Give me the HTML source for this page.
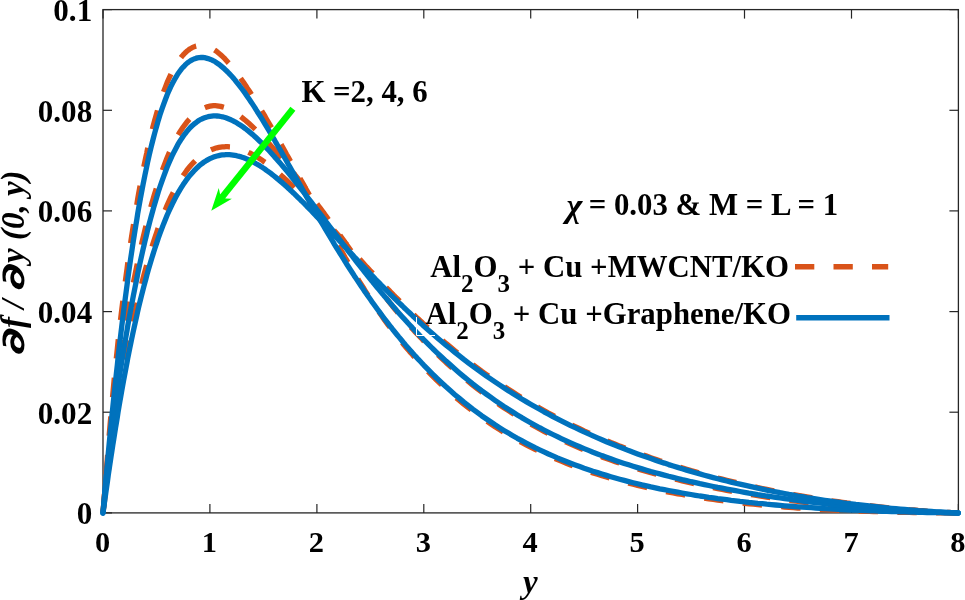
<!DOCTYPE html>
<html><head><meta charset="utf-8"><title>Velocity profile</title>
<style>
html,body{margin:0;padding:0;background:#fff;}
body{width:965px;height:600px;overflow:hidden;}
svg{display:block;}
text{font-family:"Liberation Serif",serif;font-weight:bold;font-size:30.8px;fill:#000;}
.ax line{stroke:#262626;stroke-width:1.2;}
.bl{fill:none;stroke:#0072BD;stroke-width:5.3;stroke-linejoin:round;stroke-linecap:round;}
.or{fill:none;stroke:#D95319;stroke-width:5.3;stroke-linejoin:round;stroke-dasharray:19.4 19.35;}
.it{font-style:italic;}
.sub{font-size:25px;}
</style></head><body>
<svg width="965" height="600" viewBox="0 0 965 600">
<rect width="965" height="600" fill="#fff"/>
<g class="ax">
<rect x="103" y="9.6" width="855.4" height="503.29999999999995" fill="none" stroke="#262626" stroke-width="1.3"/>
<line x1="103.0" y1="512.9" x2="103.0" y2="503.9"/>
<line x1="103.0" y1="9.6" x2="103.0" y2="18.6"/>
<line x1="209.9" y1="512.9" x2="209.9" y2="503.9"/>
<line x1="209.9" y1="9.6" x2="209.9" y2="18.6"/>
<line x1="316.9" y1="512.9" x2="316.9" y2="503.9"/>
<line x1="316.9" y1="9.6" x2="316.9" y2="18.6"/>
<line x1="423.8" y1="512.9" x2="423.8" y2="503.9"/>
<line x1="423.8" y1="9.6" x2="423.8" y2="18.6"/>
<line x1="530.7" y1="512.9" x2="530.7" y2="503.9"/>
<line x1="530.7" y1="9.6" x2="530.7" y2="18.6"/>
<line x1="637.6" y1="512.9" x2="637.6" y2="503.9"/>
<line x1="637.6" y1="9.6" x2="637.6" y2="18.6"/>
<line x1="744.5" y1="512.9" x2="744.5" y2="503.9"/>
<line x1="744.5" y1="9.6" x2="744.5" y2="18.6"/>
<line x1="851.5" y1="512.9" x2="851.5" y2="503.9"/>
<line x1="851.5" y1="9.6" x2="851.5" y2="18.6"/>
<line x1="958.4" y1="512.9" x2="958.4" y2="503.9"/>
<line x1="958.4" y1="9.6" x2="958.4" y2="18.6"/>
<line x1="103" y1="512.9" x2="112" y2="512.9"/>
<line x1="958.4" y1="512.9" x2="949.4" y2="512.9"/>
<line x1="103" y1="412.2" x2="112" y2="412.2"/>
<line x1="958.4" y1="412.2" x2="949.4" y2="412.2"/>
<line x1="103" y1="311.6" x2="112" y2="311.6"/>
<line x1="958.4" y1="311.6" x2="949.4" y2="311.6"/>
<line x1="103" y1="210.9" x2="112" y2="210.9"/>
<line x1="958.4" y1="210.9" x2="949.4" y2="210.9"/>
<line x1="103" y1="110.3" x2="112" y2="110.3"/>
<line x1="958.4" y1="110.3" x2="949.4" y2="110.3"/>
<line x1="103" y1="9.6" x2="112" y2="9.6"/>
<line x1="958.4" y1="9.6" x2="949.4" y2="9.6"/>
</g>
<g>
<path class="or" d="M103.0,513.0 L103.9,501.3 L104.8,489.7 L105.7,478.4 L106.6,467.2 L107.5,456.3 L108.3,445.5 L109.2,434.9 L110.1,424.5 L111.0,414.2 L111.9,404.1 L112.8,394.2 L113.7,384.5 L114.6,374.9 L115.5,366.0 L116.4,357.5 L117.3,349.1 L118.1,340.9 L119.0,333.0 L119.9,325.1 L120.8,317.5 L121.7,310.0 L122.6,302.7 L123.5,295.5 L124.4,288.5 L125.3,281.6 L126.2,274.9 L127.1,268.3 L127.9,261.8 L128.8,255.5 L129.7,249.3 L130.6,243.2 L131.5,237.2 L132.4,231.4 L133.3,225.7 L134.2,220.1 L135.1,214.6 L136.0,209.3 L136.9,204.0 L137.7,198.9 L138.6,193.8 L139.5,188.9 L140.4,184.1 L141.3,179.4 L142.2,174.7 L143.1,170.2 L144.0,165.8 L144.9,161.5 L145.8,157.3 L146.7,153.2 L147.5,149.1 L148.4,145.2 L149.3,141.4 L150.2,137.6 L151.1,134.0 L152.0,130.4 L152.9,126.9 L153.8,123.6 L154.7,120.3 L155.6,117.1 L156.5,113.9 L158.2,107.9 L160.0,102.2 L161.8,96.9 L163.6,91.8 L165.4,87.1 L167.1,82.6 L168.9,78.5 L170.7,74.6 L172.5,71.0 L174.3,67.7 L176.1,64.6 L177.8,61.8 L179.6,59.3 L181.4,57.0 L183.2,54.9 L185.0,53.0 L186.7,51.4 L188.5,50.0 L190.3,48.7 L192.1,47.7 L193.9,46.9 L195.7,46.2 L197.4,45.8 L199.2,45.5 L201.0,45.4 L202.8,45.5 L204.6,45.7 L206.3,46.1 L208.1,46.7 L209.9,47.4 L211.7,48.3 L213.5,49.3 L215.3,50.5 L217.0,51.7 L218.8,53.2 L220.6,54.7 L222.4,56.4 L224.2,58.1 L225.9,60.0 L227.7,62.0 L229.5,64.0 L231.3,66.1 L233.1,68.3 L234.9,70.5 L236.6,72.8 L238.4,75.2 L240.2,77.7 L242.0,80.2 L243.8,82.8 L245.6,85.4 L247.3,88.1 L249.1,90.8 L250.9,93.5 L252.7,96.3 L254.5,99.1 L256.2,101.9 L258.0,104.8 L259.8,107.7 L261.6,110.7 L263.4,113.7 L265.2,116.7 L266.9,119.7 L268.7,122.8 L270.5,125.8 L272.3,128.9 L274.1,132.0 L275.8,135.2 L277.6,138.3 L279.4,141.5 L281.2,144.6 L283.0,147.8 L284.8,151.0 L286.5,154.2 L288.3,157.4 L290.1,160.6 L291.9,163.8 L293.7,167.0 L295.4,170.1 L297.2,173.3 L299.0,176.5 L300.8,179.7 L302.6,182.9 L304.4,186.1 L306.1,189.2 L307.9,192.4 L309.7,195.6 L311.5,198.7 L313.3,201.9 L315.0,205.0 L316.8,208.1 L318.6,211.3 L320.4,214.4 L322.2,217.5 L324.0,220.6 L325.7,223.7 L327.5,226.7 L329.3,229.8 L331.1,232.9 L332.9,236.0 L334.6,239.1 L336.4,242.3 L338.2,245.4 L340.0,248.5 L341.8,251.6 L343.6,254.7 L345.3,257.8 L347.1,260.9 L348.9,264.0 L350.7,267.0 L352.5,270.0 L354.2,273.0 L356.0,276.0 L357.8,278.9 L359.6,281.8 L361.4,284.7 L363.2,287.5 L364.9,290.3 L366.7,293.2 L368.5,296.0 L370.3,298.7 L372.1,301.5 L373.8,304.2 L375.6,306.9 L377.4,309.6 L379.2,312.2 L381.0,314.8 L382.8,317.4 L384.5,319.9 L386.3,322.4 L388.1,324.8 L389.9,327.2 L391.7,329.5 L393.4,331.8 L395.2,334.1 L397.0,336.3 L398.8,338.6 L400.6,340.8 L402.4,342.9 L404.1,345.1 L405.9,347.2 L407.7,349.3 L409.5,351.4 L411.3,353.4 L413.0,355.4 L414.8,357.4 L416.6,359.4 L418.4,361.4 L420.2,363.3 L422.0,365.2 L423.7,367.1 L428.2,371.7 L432.6,376.1 L437.1,380.5 L441.6,384.7 L446.0,388.8 L450.5,392.8 L454.9,396.7 L459.4,400.4 L463.8,404.1 L468.3,407.6 L472.7,411.0 L477.2,414.3 L481.6,417.6 L486.1,420.7 L490.6,423.7 L495.0,426.7 L499.5,429.5 L503.9,432.3 L508.4,435.0 L512.8,437.6 L517.3,440.1 L521.7,442.5 L526.2,444.9 L530.6,447.2 L535.1,449.4 L539.6,451.6 L544.0,453.7 L548.5,455.7 L552.9,457.7 L557.4,459.6 L561.8,461.4 L566.3,463.2 L570.7,465.0 L575.2,466.7 L579.7,468.3 L584.1,469.9 L588.6,471.4 L593.0,472.9 L597.5,474.3 L601.9,475.7 L606.4,477.0 L610.8,478.4 L615.3,479.6 L619.7,480.9 L624.2,482.0 L628.7,483.2 L633.1,484.3 L637.6,485.4 L642.0,486.4 L646.5,487.5 L650.9,488.4 L655.4,489.4 L659.8,490.3 L664.3,491.2 L668.7,492.1 L673.2,492.9 L677.7,493.8 L682.1,494.5 L686.6,495.3 L691.0,496.1 L695.5,496.8 L699.9,497.5 L704.4,498.1 L708.8,498.8 L713.3,499.4 L717.7,500.0 L722.2,500.6 L726.7,501.2 L731.1,501.7 L735.6,502.3 L740.0,502.8 L744.5,503.3 L748.9,503.8 L753.4,504.2 L757.8,504.7 L762.3,505.1 L766.7,505.5 L771.2,505.9 L775.7,506.3 L780.1,506.6 L784.6,507.0 L789.0,507.3 L793.5,507.6 L797.9,508.0 L802.4,508.3 L806.8,508.5 L811.3,508.8 L815.7,509.1 L820.2,509.3 L824.7,509.6 L829.1,509.8 L833.6,510.0 L838.0,510.2 L842.5,510.4 L846.9,510.6 L851.4,510.8 L855.8,511.0 L860.3,511.1 L864.8,511.3 L869.2,511.4 L873.7,511.6 L878.1,511.7 L882.6,511.8 L887.0,512.0 L891.5,512.1 L895.9,512.2 L900.4,512.3 L904.8,512.4 L909.3,512.4 L913.8,512.5 L918.2,512.6 L922.7,512.7 L927.1,512.7 L931.6,512.8 L936.0,512.8 L940.5,512.9 L944.9,512.9 L949.4,512.9 L953.8,513.0 L958.3,513.0"/>
<path class="or" d="M103.0,513.0 L103.9,502.0 L104.8,491.5 L105.7,481.5 L106.6,471.9 L107.5,462.7 L108.3,453.8 L109.2,445.2 L110.1,437.0 L111.0,428.9 L111.9,421.1 L112.8,413.5 L113.7,406.1 L114.6,398.9 L115.5,391.8 L116.4,384.9 L117.3,378.2 L118.1,372.1 L119.0,366.0 L119.9,360.1 L120.8,354.3 L121.7,348.6 L122.6,343.0 L123.5,337.6 L124.4,332.2 L125.3,326.9 L126.2,321.7 L127.1,316.6 L127.9,311.6 L128.8,306.7 L129.7,301.8 L130.6,297.1 L131.5,292.3 L132.4,287.7 L133.3,283.2 L134.2,278.7 L135.1,274.3 L136.0,269.9 L136.9,265.6 L137.7,261.4 L138.6,257.3 L139.5,253.2 L140.4,249.2 L141.3,245.3 L142.2,241.4 L143.1,237.6 L144.0,233.8 L144.9,230.1 L145.8,226.5 L146.7,222.9 L147.5,219.4 L148.4,216.0 L149.3,212.6 L150.2,209.3 L151.1,206.0 L152.0,202.8 L152.9,199.7 L153.8,196.6 L154.7,193.6 L155.6,190.7 L156.5,187.8 L158.2,182.2 L160.0,176.8 L161.8,171.7 L163.6,166.8 L165.4,162.1 L167.1,157.7 L168.9,153.4 L170.7,149.4 L172.5,145.6 L174.3,142.0 L176.1,138.6 L177.8,135.4 L179.6,132.5 L181.4,129.7 L183.2,127.0 L185.0,124.6 L186.7,122.3 L188.5,120.2 L190.3,118.2 L192.1,116.4 L193.9,114.8 L195.7,113.3 L197.4,111.9 L199.2,110.7 L201.0,109.6 L202.8,108.6 L204.6,107.8 L206.3,107.1 L208.1,106.6 L209.9,106.2 L211.7,105.9 L213.5,105.7 L215.3,105.7 L217.0,105.8 L218.8,106.1 L220.6,106.4 L222.4,106.9 L224.2,107.4 L225.9,108.1 L227.7,108.9 L229.5,109.7 L231.3,110.6 L233.1,111.6 L234.9,112.7 L236.6,113.9 L238.4,115.1 L240.2,116.3 L242.0,117.7 L243.8,119.1 L245.6,120.5 L247.3,122.0 L249.1,123.6 L250.9,125.2 L252.7,126.9 L254.5,128.6 L256.2,130.3 L258.0,132.1 L259.8,133.8 L261.6,135.6 L263.4,137.5 L265.2,139.4 L266.9,141.3 L268.7,143.2 L270.5,145.2 L272.3,147.2 L274.1,149.2 L275.8,151.2 L277.6,153.3 L279.4,155.4 L281.2,157.5 L283.0,159.7 L284.8,161.8 L286.5,164.0 L288.3,166.2 L290.1,168.5 L291.9,170.7 L293.7,173.0 L295.4,175.3 L297.2,177.6 L299.0,179.9 L300.8,182.2 L302.6,184.5 L304.4,186.9 L306.1,189.3 L307.9,191.6 L309.7,194.0 L311.5,196.4 L313.3,198.8 L315.0,201.2 L316.8,203.6 L318.6,206.0 L320.4,208.4 L322.2,210.8 L324.0,213.2 L325.7,215.7 L327.5,218.1 L329.3,220.6 L331.1,223.0 L332.9,225.5 L334.6,227.9 L336.4,230.4 L338.2,232.9 L340.0,235.4 L341.8,237.8 L343.6,240.3 L345.3,242.8 L347.1,245.3 L348.9,247.8 L350.7,250.3 L352.5,252.7 L354.2,255.2 L356.0,257.7 L357.8,260.1 L359.6,262.5 L361.4,265.0 L363.2,267.4 L364.9,269.8 L366.7,272.2 L368.5,274.6 L370.3,277.0 L372.1,279.4 L373.8,281.7 L375.6,284.1 L377.4,286.5 L379.2,288.9 L381.0,291.2 L382.8,293.6 L384.5,295.9 L386.3,298.2 L388.1,300.5 L389.9,302.8 L391.7,305.1 L393.4,307.3 L395.2,309.5 L397.0,311.6 L398.8,313.8 L400.6,315.8 L402.4,317.9 L404.1,319.9 L405.9,321.9 L407.7,323.8 L409.5,325.8 L411.3,327.7 L413.0,329.6 L414.8,331.6 L416.6,333.4 L418.4,335.3 L420.2,337.2 L422.0,339.0 L423.7,340.9 L428.2,345.4 L432.6,349.8 L437.1,354.1 L441.6,358.3 L446.0,362.4 L450.5,366.4 L454.9,370.3 L459.4,374.2 L463.8,377.9 L468.3,381.5 L472.7,385.1 L477.2,388.6 L481.6,392.0 L486.1,395.3 L490.6,398.5 L495.0,401.6 L499.5,404.7 L503.9,407.7 L508.4,410.6 L512.8,413.4 L517.3,416.2 L521.7,418.9 L526.2,421.5 L530.6,424.0 L535.1,426.5 L539.6,429.0 L544.0,431.3 L548.5,433.6 L552.9,435.8 L557.4,438.0 L561.8,440.1 L566.3,442.2 L570.7,444.2 L575.2,446.2 L579.7,448.1 L584.1,449.9 L588.6,451.7 L593.0,453.5 L597.5,455.2 L601.9,456.9 L606.4,458.5 L610.8,460.1 L615.3,461.7 L619.7,463.2 L624.2,464.6 L628.7,466.1 L633.1,467.5 L637.6,468.9 L642.0,470.2 L646.5,471.5 L650.9,472.8 L655.4,474.0 L659.8,475.2 L664.3,476.4 L668.7,477.5 L673.2,478.7 L677.7,479.8 L682.1,480.8 L686.6,481.9 L691.0,482.9 L695.5,483.9 L699.9,484.9 L704.4,485.8 L708.8,486.8 L713.3,487.7 L717.7,488.6 L722.2,489.5 L726.7,490.3 L731.1,491.1 L735.6,491.9 L740.0,492.7 L744.5,493.5 L748.9,494.3 L753.4,495.0 L757.8,495.7 L762.3,496.4 L766.7,497.1 L771.2,497.8 L775.7,498.4 L780.1,499.1 L784.6,499.7 L789.0,500.3 L793.5,500.9 L797.9,501.4 L802.4,502.0 L806.8,502.5 L811.3,503.1 L815.7,503.6 L820.2,504.1 L824.7,504.5 L829.1,505.0 L833.6,505.5 L838.0,505.9 L842.5,506.3 L846.9,506.8 L851.4,507.2 L855.8,507.5 L860.3,507.9 L864.8,508.3 L869.2,508.6 L873.7,509.0 L878.1,509.3 L882.6,509.6 L887.0,509.9 L891.5,510.2 L895.9,510.4 L900.4,510.7 L904.8,510.9 L909.3,511.2 L913.8,511.4 L918.2,511.6 L922.7,511.8 L927.1,512.0 L931.6,512.2 L936.0,512.3 L940.5,512.5 L944.9,512.6 L949.4,512.8 L953.8,512.9 L958.3,513.0"/>
<path class="or" d="M103.0,513.0 L103.9,505.8 L104.8,498.7 L105.7,491.7 L106.6,484.8 L107.5,477.9 L108.3,471.1 L109.2,464.4 L110.1,457.8 L111.0,451.2 L111.9,444.7 L112.8,438.3 L113.7,432.0 L114.6,425.7 L115.5,419.6 L116.4,413.5 L117.3,407.5 L118.1,401.5 L119.0,395.7 L119.9,390.3 L120.8,384.9 L121.7,379.7 L122.6,374.6 L123.5,369.6 L124.4,364.6 L125.3,359.7 L126.2,355.0 L127.1,350.3 L127.9,345.7 L128.8,341.1 L129.7,336.7 L130.6,332.3 L131.5,328.0 L132.4,323.7 L133.3,319.6 L134.2,315.5 L135.1,311.5 L136.0,307.5 L136.9,303.6 L137.7,299.8 L138.6,296.0 L139.5,292.3 L140.4,288.7 L141.3,285.1 L142.2,281.6 L143.1,278.1 L144.0,274.7 L144.9,271.4 L145.8,268.1 L146.7,264.9 L147.5,261.7 L148.4,258.6 L149.3,255.5 L150.2,252.5 L151.1,249.6 L152.0,246.7 L152.9,243.8 L153.8,241.0 L154.7,238.3 L155.6,235.6 L156.5,233.0 L158.2,227.8 L160.0,222.9 L161.8,218.2 L163.6,213.7 L165.4,209.4 L167.1,205.3 L168.9,201.3 L170.7,197.5 L172.5,193.9 L174.3,190.5 L176.1,187.2 L177.8,184.0 L179.6,181.0 L181.4,178.2 L183.2,175.5 L185.0,172.9 L186.7,170.5 L188.5,168.2 L190.3,166.0 L192.1,164.0 L193.9,162.1 L195.7,160.3 L197.4,158.7 L199.2,157.1 L201.0,155.7 L202.8,154.4 L204.6,153.2 L206.3,152.2 L208.1,151.2 L209.9,150.3 L211.7,149.5 L213.5,148.9 L215.3,148.3 L217.0,147.8 L218.8,147.4 L220.6,147.1 L222.4,146.9 L224.2,146.8 L225.9,146.7 L227.7,146.7 L229.5,146.9 L231.3,147.0 L233.1,147.3 L234.9,147.6 L236.6,148.0 L238.4,148.5 L240.2,149.0 L242.0,149.6 L243.8,150.3 L245.6,151.0 L247.3,151.8 L249.1,152.7 L250.9,153.5 L252.7,154.5 L254.5,155.5 L256.2,156.5 L258.0,157.6 L259.8,158.7 L261.6,159.9 L263.4,161.2 L265.2,162.4 L266.9,163.7 L268.7,165.1 L270.5,166.5 L272.3,167.9 L274.1,169.3 L275.8,170.8 L277.6,172.3 L279.4,173.9 L281.2,175.4 L283.0,177.0 L284.8,178.7 L286.5,180.3 L288.3,182.0 L290.1,183.7 L291.9,185.4 L293.7,187.2 L295.4,188.9 L297.2,190.7 L299.0,192.5 L300.8,194.3 L302.6,196.2 L304.4,198.0 L306.1,199.8 L307.9,201.7 L309.7,203.6 L311.5,205.5 L313.3,207.4 L315.0,209.3 L316.8,211.2 L318.6,213.2 L320.4,215.1 L322.2,217.1 L324.0,219.0 L325.7,221.0 L327.5,223.0 L329.3,224.9 L331.1,226.9 L332.9,228.9 L334.6,230.9 L336.4,232.9 L338.2,234.9 L340.0,237.0 L341.8,239.0 L343.6,241.0 L345.3,243.0 L347.1,245.0 L348.9,247.0 L350.7,249.0 L352.5,251.1 L354.2,253.1 L356.0,255.0 L357.8,257.0 L359.6,259.0 L361.4,261.0 L363.2,263.0 L364.9,264.9 L366.7,266.9 L368.5,268.8 L370.3,270.7 L372.1,272.6 L373.8,274.5 L375.6,276.4 L377.4,278.3 L379.2,280.2 L381.0,282.0 L382.8,283.9 L384.5,285.7 L386.3,287.6 L388.1,289.4 L389.9,291.2 L391.7,293.1 L393.4,294.9 L395.2,296.7 L397.0,298.4 L398.8,300.2 L400.6,302.0 L402.4,303.7 L404.1,305.5 L405.9,307.2 L407.7,308.9 L409.5,310.6 L411.3,312.4 L413.0,314.0 L414.8,315.7 L416.6,317.4 L418.4,319.0 L420.2,320.7 L422.0,322.3 L423.7,324.0 L428.2,328.0 L432.6,331.9 L437.1,335.8 L441.6,339.6 L446.0,343.4 L450.5,347.1 L454.9,350.7 L459.4,354.3 L463.8,357.7 L468.3,361.2 L472.7,364.5 L477.2,367.8 L481.6,371.1 L486.1,374.3 L490.6,377.4 L495.0,380.5 L499.5,383.5 L503.9,386.4 L508.4,389.3 L512.8,392.1 L517.3,394.9 L521.7,397.6 L526.2,400.3 L530.6,402.9 L535.1,405.5 L539.6,408.0 L544.0,410.5 L548.5,413.0 L552.9,415.3 L557.4,417.7 L561.8,420.0 L566.3,422.2 L570.7,424.4 L575.2,426.6 L579.7,428.7 L584.1,430.8 L588.6,432.8 L593.0,434.8 L597.5,436.8 L601.9,438.7 L606.4,440.6 L610.8,442.5 L615.3,444.3 L619.7,446.1 L624.2,447.8 L628.7,449.6 L633.1,451.3 L637.6,452.9 L642.0,454.5 L646.5,456.1 L650.9,457.7 L655.4,459.2 L659.8,460.8 L664.3,462.2 L668.7,463.7 L673.2,465.1 L677.7,466.5 L682.1,467.9 L686.6,469.2 L691.0,470.6 L695.5,471.8 L699.9,473.1 L704.4,474.4 L708.8,475.6 L713.3,476.8 L717.7,478.0 L722.2,479.1 L726.7,480.2 L731.1,481.3 L735.6,482.4 L740.0,483.5 L744.5,484.5 L748.9,485.6 L753.4,486.6 L757.8,487.5 L762.3,488.5 L766.7,489.4 L771.2,490.3 L775.7,491.2 L780.1,492.1 L784.6,493.0 L789.0,493.8 L793.5,494.6 L797.9,495.4 L802.4,496.2 L806.8,496.9 L811.3,497.7 L815.7,498.4 L820.2,499.1 L824.7,499.8 L829.1,500.5 L833.6,501.1 L838.0,501.7 L842.5,502.4 L846.9,503.0 L851.4,503.5 L855.8,504.1 L860.3,504.7 L864.8,505.2 L869.2,505.7 L873.7,506.2 L878.1,506.7 L882.6,507.2 L887.0,507.6 L891.5,508.1 L895.9,508.5 L900.4,508.9 L904.8,509.3 L909.3,509.7 L913.8,510.0 L918.2,510.4 L922.7,510.7 L927.1,511.1 L931.6,511.4 L936.0,511.7 L940.5,512.0 L944.9,512.2 L949.4,512.5 L953.8,512.8 L958.3,513.0"/>
<path class="bl" d="M103.0,513.0 L103.9,502.5 L104.8,492.3 L105.7,482.2 L106.6,472.2 L107.5,462.5 L108.3,452.9 L109.2,443.4 L110.1,434.2 L111.0,425.0 L111.9,416.1 L112.8,407.2 L113.7,398.6 L114.6,390.0 L115.5,381.6 L116.4,373.4 L117.3,365.3 L118.1,357.3 L119.0,349.4 L119.9,341.7 L120.8,334.2 L121.7,326.7 L122.6,319.4 L123.5,312.2 L124.4,305.1 L125.3,298.2 L126.2,291.4 L127.1,284.7 L127.9,278.1 L128.8,271.7 L129.7,265.4 L130.6,259.1 L131.5,253.1 L132.4,247.1 L133.3,241.2 L134.2,235.5 L135.1,229.9 L136.0,224.4 L136.9,219.0 L137.7,213.7 L138.6,208.5 L139.5,203.5 L140.4,198.5 L141.3,193.7 L142.2,188.9 L143.1,184.3 L144.0,179.8 L144.9,175.3 L145.8,171.0 L146.7,166.8 L147.5,162.7 L148.4,158.6 L149.3,154.7 L150.2,150.9 L151.1,147.2 L152.0,143.5 L152.9,140.0 L153.8,136.5 L154.7,133.1 L155.6,129.9 L156.5,126.7 L158.2,120.6 L160.0,114.8 L161.8,109.4 L163.6,104.3 L165.4,99.5 L167.1,95.0 L168.9,90.8 L170.7,86.9 L172.5,83.3 L174.3,79.9 L176.1,76.9 L177.8,74.0 L179.6,71.5 L181.4,69.1 L183.2,67.1 L185.0,65.2 L186.7,63.5 L188.5,62.1 L190.3,60.9 L192.1,59.9 L193.9,59.0 L195.7,58.4 L197.4,57.9 L199.2,57.6 L201.0,57.5 L202.8,57.5 L204.6,57.7 L206.3,58.1 L208.1,58.6 L209.9,59.2 L211.7,59.9 L213.5,60.8 L215.3,61.8 L217.0,63.0 L218.8,64.2 L220.6,65.6 L222.4,67.1 L224.2,68.6 L225.9,70.3 L227.7,72.0 L229.5,73.9 L231.3,75.8 L233.1,77.8 L234.9,79.9 L236.6,82.1 L238.4,84.3 L240.2,86.6 L242.0,89.0 L243.8,91.4 L245.6,93.9 L247.3,96.4 L249.1,99.0 L250.9,101.7 L252.7,104.4 L254.5,107.1 L256.2,109.9 L258.0,112.7 L259.8,115.5 L261.6,118.4 L263.4,121.3 L265.2,124.3 L266.9,127.2 L268.7,130.2 L270.5,133.2 L272.3,136.3 L274.1,139.3 L275.8,142.4 L277.6,145.5 L279.4,148.6 L281.2,151.7 L283.0,154.8 L284.8,158.0 L286.5,161.1 L288.3,164.3 L290.1,167.4 L291.9,170.6 L293.7,173.7 L295.4,176.9 L297.2,180.1 L299.0,183.2 L300.8,186.4 L302.6,189.5 L304.4,192.7 L306.1,195.8 L307.9,198.9 L309.7,202.1 L311.5,205.2 L313.3,208.3 L315.0,211.4 L316.8,214.5 L318.6,217.6 L320.4,220.6 L322.2,223.7 L324.0,226.7 L325.7,229.7 L327.5,232.7 L329.3,235.7 L331.1,238.7 L332.9,241.7 L334.6,244.6 L336.4,247.5 L338.2,250.4 L340.0,253.3 L341.8,256.2 L343.6,259.0 L345.3,261.9 L347.1,264.7 L348.9,267.5 L350.7,270.2 L352.5,273.0 L354.2,275.7 L356.0,278.4 L357.8,281.1 L359.6,283.8 L361.4,286.4 L363.2,289.1 L364.9,291.7 L366.7,294.2 L368.5,296.8 L370.3,299.3 L372.1,301.9 L373.8,304.3 L375.6,306.8 L377.4,309.3 L379.2,311.7 L381.0,314.1 L382.8,316.5 L384.5,318.8 L386.3,321.2 L388.1,323.5 L389.9,325.8 L391.7,328.0 L393.4,330.3 L395.2,332.5 L397.0,334.7 L398.8,336.9 L400.6,339.0 L402.4,341.2 L404.1,343.3 L405.9,345.4 L407.7,347.4 L409.5,349.5 L411.3,351.5 L413.0,353.5 L414.8,355.5 L416.6,357.4 L418.4,359.4 L420.2,361.3 L422.0,363.2 L423.7,365.1 L428.2,369.7 L432.6,374.1 L437.1,378.5 L441.6,382.7 L446.0,386.8 L450.5,390.8 L454.9,394.7 L459.4,398.4 L463.8,402.1 L468.3,405.6 L472.7,409.1 L477.2,412.4 L481.6,415.7 L486.1,418.8 L490.6,421.8 L495.0,424.8 L499.5,427.7 L503.9,430.4 L508.4,433.1 L512.8,435.7 L517.3,438.3 L521.7,440.7 L526.2,443.1 L530.6,445.4 L535.1,447.7 L539.6,449.8 L544.0,451.9 L548.5,454.0 L552.9,455.9 L557.4,457.9 L561.8,459.7 L566.3,461.5 L570.7,463.2 L575.2,464.9 L579.7,466.6 L584.1,468.2 L588.6,469.7 L593.0,471.2 L597.5,472.6 L601.9,474.0 L606.4,475.4 L610.8,476.7 L615.3,478.0 L619.7,479.2 L624.2,480.4 L628.7,481.6 L633.1,482.7 L637.6,483.8 L642.0,484.9 L646.5,485.9 L650.9,486.9 L655.4,487.8 L659.8,488.8 L664.3,489.7 L668.7,490.5 L673.2,491.4 L677.7,492.2 L682.1,493.0 L686.6,493.8 L691.0,494.5 L695.5,495.3 L699.9,496.0 L704.4,496.6 L708.8,497.3 L713.3,497.9 L717.7,498.6 L722.2,499.2 L726.7,499.7 L731.1,500.3 L735.6,500.8 L740.0,501.4 L744.5,501.9 L748.9,502.4 L753.4,502.8 L757.8,503.3 L762.3,503.7 L766.7,504.2 L771.2,504.6 L775.7,505.0 L780.1,505.4 L784.6,505.8 L789.0,506.1 L793.5,506.5 L797.9,506.8 L802.4,507.1 L806.8,507.4 L811.3,507.7 L815.7,508.0 L820.2,508.3 L824.7,508.6 L829.1,508.8 L833.6,509.1 L838.0,509.3 L842.5,509.6 L846.9,509.8 L851.4,510.0 L855.8,510.2 L860.3,510.4 L864.8,510.6 L869.2,510.8 L873.7,510.9 L878.1,511.1 L882.6,511.3 L887.0,511.4 L891.5,511.5 L895.9,511.7 L900.4,511.8 L904.8,511.9 L909.3,512.1 L913.8,512.2 L918.2,512.3 L922.7,512.4 L927.1,512.5 L931.6,512.6 L936.0,512.6 L940.5,512.7 L944.9,512.8 L949.4,512.9 L953.8,512.9 L958.3,513.0"/>
<path class="bl" d="M103.0,513.0 L103.9,503.0 L104.8,493.5 L105.7,484.4 L106.6,475.7 L107.5,467.4 L108.3,459.4 L109.2,451.6 L110.1,444.2 L111.0,436.9 L111.9,429.9 L112.8,423.0 L113.7,416.3 L114.6,409.8 L115.5,403.4 L116.4,397.1 L117.3,391.0 L118.1,385.0 L119.0,379.1 L119.9,373.3 L120.8,367.6 L121.7,362.0 L122.6,356.4 L123.5,351.0 L124.4,345.6 L125.3,340.4 L126.2,335.1 L127.1,330.0 L127.9,324.9 L128.8,320.0 L129.7,315.0 L130.6,310.2 L131.5,305.4 L132.4,300.7 L133.3,296.0 L134.2,291.4 L135.1,286.9 L136.0,282.5 L136.9,278.1 L137.7,273.8 L138.6,269.5 L139.5,265.3 L140.4,261.2 L141.3,257.1 L142.2,253.1 L143.1,249.2 L144.0,245.3 L144.9,241.5 L145.8,237.8 L146.7,234.1 L147.5,230.5 L148.4,227.0 L149.3,223.5 L150.2,220.1 L151.1,216.8 L152.0,213.5 L152.9,210.3 L153.8,207.1 L154.7,204.0 L155.6,201.0 L156.5,198.0 L158.2,192.3 L160.0,186.8 L161.8,181.6 L163.6,176.6 L165.4,171.8 L167.1,167.3 L168.9,163.0 L170.7,158.9 L172.5,155.0 L174.3,151.4 L176.1,148.0 L177.8,144.7 L179.6,141.7 L181.4,138.9 L183.2,136.3 L185.0,133.8 L186.7,131.6 L188.5,129.5 L190.3,127.5 L192.1,125.8 L193.9,124.2 L195.7,122.8 L197.4,121.5 L199.2,120.3 L201.0,119.3 L202.8,118.5 L204.6,117.8 L206.3,117.2 L208.1,116.7 L209.9,116.3 L211.7,116.1 L213.5,115.9 L215.3,115.9 L217.0,116.0 L218.8,116.2 L220.6,116.5 L222.4,116.8 L224.2,117.3 L225.9,117.8 L227.7,118.5 L229.5,119.2 L231.3,120.0 L233.1,120.9 L234.9,121.8 L236.6,122.8 L238.4,123.9 L240.2,125.0 L242.0,126.2 L243.8,127.5 L245.6,128.8 L247.3,130.2 L249.1,131.6 L250.9,133.1 L252.7,134.6 L254.5,136.2 L256.2,137.8 L258.0,139.5 L259.8,141.2 L261.6,142.9 L263.4,144.7 L265.2,146.5 L266.9,148.4 L268.7,150.3 L270.5,152.2 L272.3,154.2 L274.1,156.2 L275.8,158.2 L277.6,160.2 L279.4,162.3 L281.2,164.4 L283.0,166.5 L284.8,168.6 L286.5,170.7 L288.3,172.9 L290.1,175.1 L291.9,177.3 L293.7,179.5 L295.4,181.8 L297.2,184.0 L299.0,186.3 L300.8,188.6 L302.6,190.9 L304.4,193.2 L306.1,195.5 L307.9,197.8 L309.7,200.1 L311.5,202.4 L313.3,204.8 L315.0,207.1 L316.8,209.5 L318.6,211.8 L320.4,214.2 L322.2,216.5 L324.0,218.9 L325.7,221.3 L327.5,223.6 L329.3,226.0 L331.1,228.3 L332.9,230.7 L334.6,233.0 L336.4,235.4 L338.2,237.7 L340.0,240.1 L341.8,242.4 L343.6,244.8 L345.3,247.1 L347.1,249.4 L348.9,251.8 L350.7,254.1 L352.5,256.4 L354.2,258.7 L356.0,261.0 L357.8,263.3 L359.6,265.5 L361.4,267.8 L363.2,270.1 L364.9,272.3 L366.7,274.5 L368.5,276.8 L370.3,279.0 L372.1,281.2 L373.8,283.4 L375.6,285.6 L377.4,287.8 L379.2,289.9 L381.0,292.1 L382.8,294.2 L384.5,296.3 L386.3,298.4 L388.1,300.5 L389.9,302.6 L391.7,304.7 L393.4,306.8 L395.2,308.8 L397.0,310.9 L398.8,312.9 L400.6,314.9 L402.4,316.9 L404.1,318.8 L405.9,320.8 L407.7,322.8 L409.5,324.7 L411.3,326.6 L413.0,328.5 L414.8,330.4 L416.6,332.3 L418.4,334.1 L420.2,336.0 L422.0,337.8 L423.7,339.6 L428.2,344.1 L432.6,348.5 L437.1,352.8 L441.6,357.0 L446.0,361.1 L450.5,365.1 L454.9,369.0 L459.4,372.9 L463.8,376.6 L468.3,380.2 L472.7,383.8 L477.2,387.3 L481.6,390.7 L486.1,394.0 L490.6,397.2 L495.0,400.3 L499.5,403.4 L503.9,406.4 L508.4,409.3 L512.8,412.1 L517.3,414.9 L521.7,417.6 L526.2,420.2 L530.6,422.7 L535.1,425.2 L539.6,427.7 L544.0,430.0 L548.5,432.3 L552.9,434.5 L557.4,436.7 L561.8,438.8 L566.3,440.9 L570.7,442.9 L575.2,444.9 L579.7,446.8 L584.1,448.6 L588.6,450.4 L593.0,452.2 L597.5,453.9 L601.9,455.6 L606.4,457.2 L610.8,458.8 L615.3,460.4 L619.7,461.9 L624.2,463.4 L628.7,464.8 L633.1,466.2 L637.6,467.6 L642.0,468.9 L646.5,470.2 L650.9,471.5 L655.4,472.7 L659.8,473.9 L664.3,475.1 L668.7,476.3 L673.2,477.4 L677.7,478.5 L682.1,479.6 L686.6,480.6 L691.0,481.7 L695.5,482.7 L699.9,483.7 L704.4,484.6 L708.8,485.5 L713.3,486.5 L717.7,487.4 L722.2,488.2 L726.7,489.1 L731.1,489.9 L735.6,490.7 L740.0,491.5 L744.5,492.3 L748.9,493.1 L753.4,493.8 L757.8,494.6 L762.3,495.3 L766.7,496.0 L771.2,496.6 L775.7,497.3 L780.1,497.9 L784.6,498.6 L789.0,499.2 L793.5,499.8 L797.9,500.4 L802.4,501.0 L806.8,501.5 L811.3,502.1 L815.7,502.6 L820.2,503.1 L824.7,503.6 L829.1,504.1 L833.6,504.6 L838.0,505.0 L842.5,505.5 L846.9,505.9 L851.4,506.4 L855.8,506.8 L860.3,507.2 L864.8,507.6 L869.2,507.9 L873.7,508.3 L878.1,508.6 L882.6,509.0 L887.0,509.3 L891.5,509.6 L895.9,509.9 L900.4,510.2 L904.8,510.5 L909.3,510.8 L913.8,511.0 L918.2,511.3 L922.7,511.5 L927.1,511.7 L931.6,511.9 L936.0,512.1 L940.5,512.3 L944.9,512.5 L949.4,512.7 L953.8,512.8 L958.3,513.0"/>
<path class="bl" d="M103.0,513.0 L103.9,506.5 L104.8,500.1 L105.7,493.7 L106.6,487.4 L107.5,481.2 L108.3,475.0 L109.2,468.9 L110.1,462.9 L111.0,456.9 L111.9,451.1 L112.8,445.2 L113.7,439.5 L114.6,433.8 L115.5,428.2 L116.4,422.7 L117.3,417.3 L118.1,411.9 L119.0,406.6 L119.9,401.4 L120.8,396.2 L121.7,391.1 L122.6,386.1 L123.5,381.1 L124.4,376.3 L125.3,371.4 L126.2,366.7 L127.1,362.0 L127.9,357.4 L128.8,352.9 L129.7,348.4 L130.6,344.1 L131.5,339.7 L132.4,335.5 L133.3,331.3 L134.2,327.1 L135.1,323.1 L136.0,319.1 L136.9,315.1 L137.7,311.3 L138.6,307.5 L139.5,303.7 L140.4,300.0 L141.3,296.4 L142.2,292.8 L143.1,289.3 L144.0,285.9 L144.9,282.5 L145.8,279.2 L146.7,275.9 L147.5,272.7 L148.4,269.5 L149.3,266.4 L150.2,263.4 L151.1,260.4 L152.0,257.5 L152.9,254.6 L153.8,251.7 L154.7,249.0 L155.6,246.2 L156.5,243.6 L158.2,238.4 L160.0,233.4 L161.8,228.6 L163.6,223.9 L165.4,219.5 L167.1,215.3 L168.9,211.2 L170.7,207.3 L172.5,203.6 L174.3,200.0 L176.1,196.6 L177.8,193.4 L179.6,190.3 L181.4,187.4 L183.2,184.6 L185.0,182.0 L186.7,179.5 L188.5,177.2 L190.3,174.9 L192.1,172.9 L193.9,170.9 L195.7,169.1 L197.4,167.4 L199.2,165.8 L201.0,164.3 L202.8,163.0 L204.6,161.7 L206.3,160.6 L208.1,159.6 L209.9,158.7 L211.7,157.9 L213.5,157.1 L215.3,156.5 L217.0,156.0 L218.8,155.6 L220.6,155.2 L222.4,154.9 L224.2,154.8 L225.9,154.7 L227.7,154.7 L229.5,154.7 L231.3,154.9 L233.1,155.1 L234.9,155.4 L236.6,155.7 L238.4,156.2 L240.2,156.6 L242.0,157.2 L243.8,157.8 L245.6,158.5 L247.3,159.2 L249.1,160.0 L250.9,160.8 L252.7,161.7 L254.5,162.7 L256.2,163.7 L258.0,164.7 L259.8,165.8 L261.6,166.9 L263.4,168.1 L265.2,169.3 L266.9,170.6 L268.7,171.9 L270.5,173.2 L272.3,174.6 L274.1,176.0 L275.8,177.4 L277.6,178.9 L279.4,180.4 L281.2,181.9 L283.0,183.4 L284.8,185.0 L286.5,186.6 L288.3,188.2 L290.1,189.9 L291.9,191.5 L293.7,193.2 L295.4,194.9 L297.2,196.7 L299.0,198.4 L300.8,200.2 L302.6,201.9 L304.4,203.7 L306.1,205.5 L307.9,207.4 L309.7,209.2 L311.5,211.0 L313.3,212.9 L315.0,214.7 L316.8,216.6 L318.6,218.5 L320.4,220.4 L322.2,222.3 L324.0,224.2 L325.7,226.1 L327.5,228.0 L329.3,229.9 L331.1,231.8 L332.9,233.7 L334.6,235.6 L336.4,237.5 L338.2,239.5 L340.0,241.4 L341.8,243.3 L343.6,245.2 L345.3,247.1 L347.1,249.1 L348.9,251.0 L350.7,252.9 L352.5,254.8 L354.2,256.7 L356.0,258.6 L357.8,260.5 L359.6,262.4 L361.4,264.3 L363.2,266.2 L364.9,268.1 L366.7,270.0 L368.5,271.8 L370.3,273.7 L372.1,275.6 L373.8,277.4 L375.6,279.3 L377.4,281.1 L379.2,282.9 L381.0,284.8 L382.8,286.6 L384.5,288.4 L386.3,290.2 L388.1,292.0 L389.9,293.8 L391.7,295.6 L393.4,297.3 L395.2,299.1 L397.0,300.8 L398.8,302.6 L400.6,304.3 L402.4,306.0 L404.1,307.7 L405.9,309.4 L407.7,311.1 L409.5,312.8 L411.3,314.5 L413.0,316.2 L414.8,317.8 L416.6,319.5 L418.4,321.1 L420.2,322.7 L422.0,324.4 L423.7,326.0 L428.2,329.9 L432.6,333.8 L437.1,337.7 L441.6,341.5 L446.0,345.2 L450.5,348.8 L454.9,352.4 L459.4,355.9 L463.8,359.4 L468.3,362.8 L472.7,366.1 L477.2,369.4 L481.6,372.6 L486.1,375.8 L490.6,378.9 L495.0,381.9 L499.5,384.9 L503.9,387.8 L508.4,390.7 L512.8,393.5 L517.3,396.3 L521.7,399.0 L526.2,401.6 L530.6,404.2 L535.1,406.8 L539.6,409.3 L544.0,411.8 L548.5,414.2 L552.9,416.6 L557.4,418.9 L561.8,421.1 L566.3,423.4 L570.7,425.6 L575.2,427.7 L579.7,429.8 L584.1,431.9 L588.6,433.9 L593.0,435.9 L597.5,437.9 L601.9,439.8 L606.4,441.7 L610.8,443.5 L615.3,445.3 L619.7,447.1 L624.2,448.8 L628.7,450.6 L633.1,452.2 L637.6,453.9 L642.0,455.5 L646.5,457.1 L650.9,458.6 L655.4,460.2 L659.8,461.7 L664.3,463.1 L668.7,464.6 L673.2,466.0 L677.7,467.4 L682.1,468.7 L686.6,470.1 L691.0,471.4 L695.5,472.7 L699.9,473.9 L704.4,475.2 L708.8,476.4 L713.3,477.6 L717.7,478.7 L722.2,479.9 L726.7,481.0 L731.1,482.1 L735.6,483.2 L740.0,484.2 L744.5,485.2 L748.9,486.2 L753.4,487.2 L757.8,488.2 L762.3,489.1 L766.7,490.1 L771.2,491.0 L775.7,491.8 L780.1,492.7 L784.6,493.5 L789.0,494.4 L793.5,495.2 L797.9,496.0 L802.4,496.7 L806.8,497.5 L811.3,498.2 L815.7,498.9 L820.2,499.6 L824.7,500.3 L829.1,500.9 L833.6,501.6 L838.0,502.2 L842.5,502.8 L846.9,503.4 L851.4,503.9 L855.8,504.5 L860.3,505.0 L864.8,505.5 L869.2,506.0 L873.7,506.5 L878.1,507.0 L882.6,507.5 L887.0,507.9 L891.5,508.3 L895.9,508.7 L900.4,509.1 L904.8,509.5 L909.3,509.9 L913.8,510.2 L918.2,510.6 L922.7,510.9 L927.1,511.2 L931.6,511.5 L936.0,511.8 L940.5,512.0 L944.9,512.3 L949.4,512.5 L953.8,512.8 L958.3,513.0"/>
</g>
<g>
<text x="102.5" y="552" text-anchor="middle" style="font-size:30.4px">0</text>
<text x="209.4" y="552" text-anchor="middle" style="font-size:30.4px">1</text>
<text x="316.4" y="552" text-anchor="middle" style="font-size:30.4px">2</text>
<text x="423.3" y="552" text-anchor="middle" style="font-size:30.4px">3</text>
<text x="530.2" y="552" text-anchor="middle" style="font-size:30.4px">4</text>
<text x="637.1" y="552" text-anchor="middle" style="font-size:30.4px">5</text>
<text x="744.0" y="552" text-anchor="middle" style="font-size:30.4px">6</text>
<text x="851.0" y="552" text-anchor="middle" style="font-size:30.4px">7</text>
<text x="957.9" y="552" text-anchor="middle" style="font-size:30.4px">8</text>
<text x="92.2" y="524.2" text-anchor="end" style="font-size:31.1px">0</text>
<text x="92.2" y="423.5" text-anchor="end" style="font-size:31.1px">0.02</text>
<text x="92.2" y="322.9" text-anchor="end" style="font-size:31.1px">0.04</text>
<text x="92.2" y="222.2" text-anchor="end" style="font-size:31.1px">0.06</text>
<text x="92.2" y="121.6" text-anchor="end" style="font-size:31.1px">0.08</text>
<text x="92.2" y="20.9" text-anchor="end" style="font-size:31.1px">0.1</text>
</g>
<text class="it" x="522.9" y="592.5" style="font-size:33px">y</text>
<g transform="translate(24,355) rotate(-90)" class="it" style="font-size:33px">
<text transform="translate(-1,0) skewX(-8) scale(1.55,1)" style="font-family:'DejaVu Sans',sans-serif;font-size:32px" x="0" y="0">∂</text>
<text x="27" y="0" style="font-size:33px">f /</text>
<text transform="translate(63.5,0) skewX(-8) scale(1.55,1)" style="font-family:'DejaVu Sans',sans-serif;font-size:32px" x="0" y="0">∂</text>
<text x="92" y="0" style="font-size:33px">y (0, y)</text>
</g>
<text x="301.4" y="101.7">K =2, 4, 6</text>
<text x="566.6" y="216.6" class="it" style="font-size:34px">χ</text>
<text x="588.7" y="215.4">= 0.03 &amp; M = L = 1</text>
<text x="430.3" y="277">Al<tspan class="sub" dy="15">2</tspan><tspan dy="-15">O</tspan><tspan class="sub" dy="15">3</tspan><tspan dy="-15"> + Cu +MWCNT/KO</tspan></text>
<text x="425.4" y="324.2">Al<tspan class="sub" dy="15">2</tspan><tspan dy="-15">O</tspan><tspan class="sub" dy="15">3</tspan><tspan dy="-15"> + Cu +Graphene/KO</tspan></text>
<line x1="795" y1="266.7" x2="888.2" y2="266.7" stroke="#D95319" stroke-width="5.5" stroke-dasharray="19.3 19.2"/>
<line x1="796.2" y1="317.8" x2="889.5" y2="317.8" stroke="#0072BD" stroke-width="5.5"/>
<path d="M416.5,317 V335.5 H435" fill="none" stroke="#fff" stroke-width="1"/>
<g>
<line x1="292.9" y1="108.7" x2="220.4" y2="199.3" stroke="#00FF00" stroke-width="6.4"/>
<polygon points="211.25,210.8 218.75,187.9 220.1,194.2 225.6,198.6 231.9,198.75" fill="#00FF00"/>
</g>
</svg>
</body></html>
